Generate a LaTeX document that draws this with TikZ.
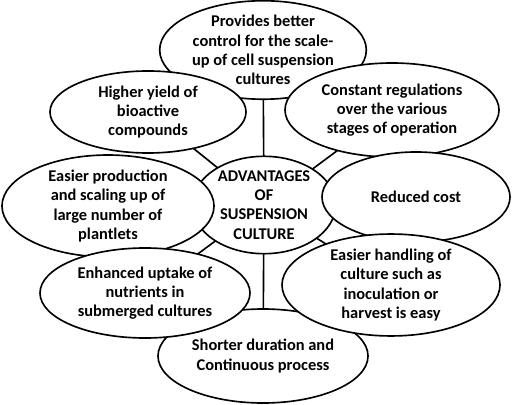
\documentclass[tikz,border=0pt]{standalone}
\usepackage{fontspec}
\setmainfont{Carlito}
\usepackage{tikz}
\usetikzlibrary{shapes.geometric,backgrounds}

\begin{document}
\begin{tikzpicture}[
    x=0.03cm, y=-0.03cm,
    bubble/.style={ellipse, draw=black, line width=1.4pt, fill=white, inner sep=0pt, align=center, font=\bfseries\fontsize{14}{16.5}\selectfont},
    link/.style={line width=1.4pt}
]
    \useasboundingbox (0,0) rectangle (512,405);

    \node[bubble, minimum width=4.3cm, minimum height=2.7cm] (adv) at (264,205) {ADVANTAGES\\OF\\SUSPENSION\\CULTURE};

    \node[bubble, minimum width=6.3cm, minimum height=2.82cm] (a8) at (263,356) {Shorter duration and\\Continuous process};
    \node[bubble, minimum width=6.2cm, minimum height=2.94cm] (a1) at (263,50) {Provides better\\control for the scale-\\up of cell suspension\\cultures};
    \node[bubble, minimum width=5.88cm, minimum height=2.46cm] (a2) at (148,112) {Higher yield of\\bioactive\\compounds};
    \node[bubble, minimum width=6.42cm, minimum height=2.82cm] (a3) at (392,110) {Constant regulations\\over the various\\stages of operation};
    \node[bubble, minimum width=6.36cm, minimum height=2.94cm] (a4) at (108,206) {Easier production\\and scaling up of\\large number of\\plantlets};
    \node[bubble, minimum width=5.64cm, minimum height=2.7cm] (a5) at (416,197) {Reduced cost};
    \node[bubble, minimum width=6.3cm, minimum height=2.7cm] (a6) at (145,293) {Enhanced uptake of\\nutrients in\\submerged cultures};
    \node[bubble, minimum width=6.54cm, minimum height=2.58cm] (a7) at (391,285) {Easier handling of\\culture such as\\inoculation or\\harvest is easy};

    % spokes behind the bubbles
    \begin{scope}[on background layer]
        \foreach \n in {a1,a2,a3,a6,a7,a8}
            \draw[link] (adv.center) -- (\n.center);
    \end{scope}
\end{tikzpicture}
\end{document}
